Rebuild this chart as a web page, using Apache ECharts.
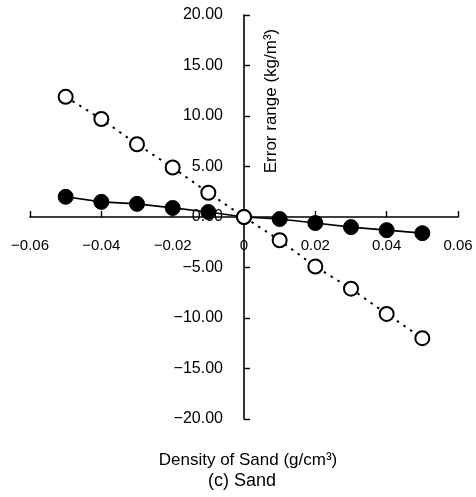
<!DOCTYPE html>
<html>
<head>
<meta charset="utf-8">
<script src="https://cdn.jsdelivr.net/npm/echarts@6/dist/echarts.min.js"></script>
<style>
  html, body { margin: 0; padding: 0; background: #fff; }
  #chart { width: 476px; height: 497px; }
</style>
</head>
<body>
<div id="chart"></div>
<script>
// Density deviation of sand (g/cm3)
const densityDelta = [-0.05, -0.04, -0.03, -0.02, -0.01, 0, 0.01, 0.02, 0.03, 0.04, 0.05];
// Error range (kg/m3), filled markers, solid line
const errorFilled = [2.0, 1.5, 1.3, 0.9, 0.5, 0, -0.2, -0.6, -1.0, -1.3, -1.6];
// Error range (kg/m3), open markers, dotted line
const errorOpen = [11.9, 9.7, 7.2, 4.9, 2.4, 0, -2.3, -4.9, -7.1, -9.6, -12.0];

const xTicks = { min: -0.06, max: 0.06, interval: 0.02 };
const yTicks = { min: -20, max: 20, interval: 5 };

const FONT = '"Liberation Sans", Arial, sans-serif';
const minus = s => s.replace('-', '\u2212');

const W = 476, H = 497;
const grid = { left: 30, right: 18, top: 15, bottom: 78 };
// Both axes cross at the origin; shift each whole axis (line, ticks, labels) there.
const plotW = W - grid.left - grid.right;
const plotH = H - grid.top - grid.bottom;
const yAxisShift = -plotW * (0 - xTicks.min) / (xTicks.max - xTicks.min);
const xAxisShift = -plotH * (0 - yTicks.min) / (yTicks.max - yTicks.min);

const chart = echarts.init(document.getElementById('chart'), null, { renderer: 'canvas' });

chart.setOption({
  backgroundColor: '#fff',
  animation: false,
  grid: Object.assign({ containLabel: false, outerBoundsMode: 'none' }, grid),
  xAxis: {
    type: 'value', position: 'bottom', offset: xAxisShift,
    min: xTicks.min, max: xTicks.max, interval: xTicks.interval,
    axisLine: { onZero: false, lineStyle: { color: '#000', width: 1.6 } },
    axisTick: { inside: true, length: 6, lineStyle: { color: '#000', width: 1.4 } },
    splitLine: { show: false },
    axisLabel: {
      margin: 21, color: '#000', fontSize: 15, fontFamily: FONT,
      formatter: v => Math.abs(v) < 1e-9 ? '0' : minus(v.toFixed(2))
    }
  },
  yAxis: {
    type: 'value', position: 'left', offset: yAxisShift,
    min: yTicks.min, max: yTicks.max, interval: yTicks.interval,
    axisLine: { onZero: false, lineStyle: { color: '#000', width: 1.6 } },
    axisTick: { inside: true, length: 6, lineStyle: { color: '#000', width: 1.4 } },
    splitLine: { show: false },
    axisLabel: {
      margin: 21, color: '#000', fontSize: 16, fontFamily: FONT,
      formatter: v => minus(v.toFixed(2))
    }
  },
  series: [
    {
      type: 'line',
      data: densityDelta.map((x, i) => [x, errorFilled[i]]),
      symbol: 'circle', symbolSize: 15,
      itemStyle: { color: '#000', borderColor: '#000', borderWidth: 1 },
      lineStyle: { color: '#000', width: 1.6 },
      z: 3
    },
    {
      type: 'line',
      data: densityDelta.map((x, i) => [x, errorOpen[i]]),
      symbol: 'circle', symbolSize: 14,
      itemStyle: { color: '#fff', borderColor: '#000', borderWidth: 2 },
      lineStyle: { color: '#000', width: 2, type: [2.5, 5.5] },
      z: 4
    }
  ],
  graphic: [
    {
      type: 'text', x: 271, y: 101, rotation: Math.PI / 2,
      style: {
        text: 'Error range (kg/m\u00B3)', fill: '#000', font: '17px ' + FONT,
        align: 'center', verticalAlign: 'middle'
      }
    },
    {
      type: 'text', x: 248, y: 460,
      style: {
        text: 'Density of Sand (g/cm\u00B3)', fill: '#000', font: '17px ' + FONT,
        align: 'center', verticalAlign: 'middle'
      }
    },
    {
      type: 'text', x: 242, y: 481,
      style: {
        text: '(c) Sand', fill: '#000', font: '18px ' + FONT,
        align: 'center', verticalAlign: 'middle'
      }
    }
  ]
});
</script>
</body>
</html>
